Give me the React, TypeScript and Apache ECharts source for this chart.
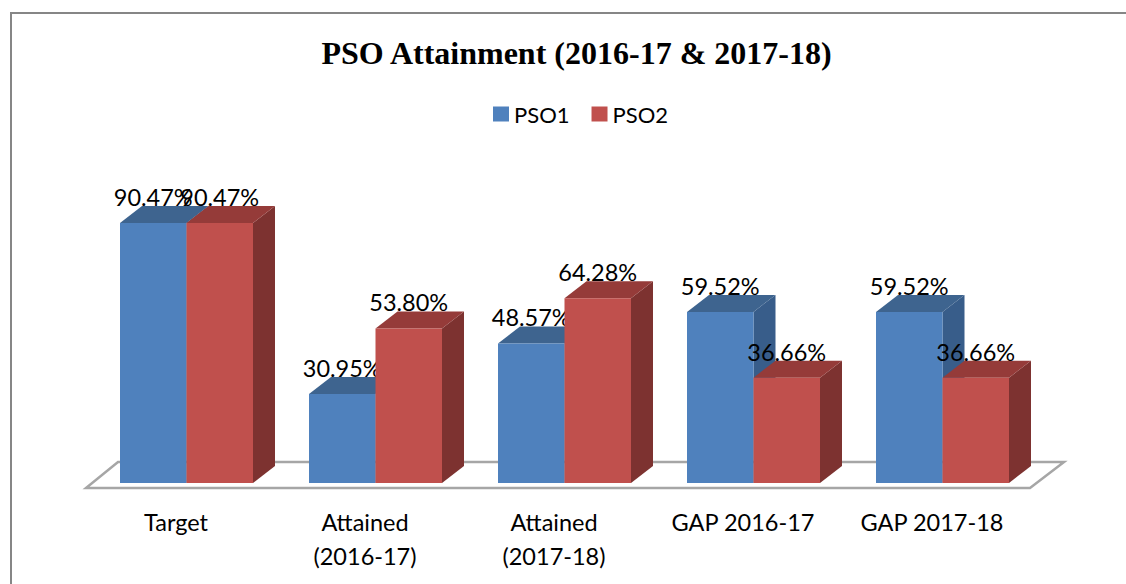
import React, { useEffect, useRef } from "react";
import * as echarts from "echarts";

const categories = ["Target", "Attained\n(2016-17)", "Attained\n(2017-18)", "GAP 2016-17", "GAP 2017-18"];
const pso1 = [90.47, 30.95, 48.57, 59.52, 59.52];
const pso2 = [90.47, 53.8, 64.28, 36.66, 36.66];

const BAR_W = 66.5;
const DX = 22;
const DY = 17;
const SHIFT = 10.5;
const LABEL_FONT = "Lato, Carlito, sans-serif";

function bar3d(front: string, top: string, side: string, seriesOffset: number) {
  return (_params: any, api: any) => {
    const cat = api.value(0);
    const val = api.value(1);
    const [cx, yTop] = api.coord([cat, val]);
    const [, yBase] = api.coord([cat, 0]);
    const x0 = cx + SHIFT + seriesOffset * BAR_W;
    const x1 = x0 + BAR_W;
    return {
      type: "group",
      children: [
        {
          type: "polygon",
          shape: { points: [[x1, yTop], [x1 + DX, yTop - DY], [x1 + DX, yBase - DY], [x1, yBase]] },
          style: { fill: side },
        },
        {
          type: "polygon",
          shape: { points: [[x0, yTop], [x0 + DX, yTop - DY], [x1 + DX, yTop - DY], [x1, yTop]] },
          style: { fill: top },
        },
        {
          type: "rect",
          shape: { x: x0, y: yTop, width: BAR_W, height: yBase - yTop },
          style: { fill: front },
        },
        {
          type: "text",
          z2: 100,
          x: (x0 + x1) / 2,
          y: yTop - 26,
          style: {
            text: val.toFixed(2) + "%",
            fill: "#000",
            font: `23.5px ${LABEL_FONT}`,
            align: "center",
            verticalAlign: "middle",
          },
        },
      ],
    };
  };
}

function floor(params: any, _api: any) {
  const c = params.coordSys;
  const base = c.y + c.height;
  const left = c.x + 4.5;
  const right = c.x + c.width + 3.5;
  return {
    type: "polygon",
    shape: {
      points: [
        [left, base + 5],
        [right, base + 5],
        [right + 34, base - 21],
        [left + 32, base - 21],
      ],
    },
    style: { fill: "#fff", stroke: "#A6A6A6", lineWidth: 2.5 },
  };
}

export default function App() {
  const ref = useRef<HTMLDivElement>(null);
  useEffect(() => {
    const chart = echarts.init(ref.current!, null, { renderer: "svg" });
    chart.setOption({
      animation: false,
      backgroundColor: "#fff",
      title: {
        text: "PSO Attainment (2016-17 & 2017-18)",
        left: 571.5,
        top: 32,
        textAlign: "center",
        textStyle: {
          fontFamily: "Liberation Serif",
          fontWeight: "bold",
          fontSize: 32,
          color: "#000",
        },
      },
      legend: {
        data: ["PSO1", "PSO2"],
        top: 98,
        left: 488,
        icon: "rect",
        itemWidth: 16,
        itemHeight: 15,
        itemGap: 22,
        textStyle: { fontFamily: LABEL_FONT, fontSize: 22, color: "#000" },
      },
      grid: { left: 81.5, width: 945, top: 195.6, height: 287.4 },
      xAxis: {
        type: "category",
        data: categories,
        axisLine: { show: false },
        axisTick: { show: false },
        axisLabel: {
          interval: 0,
          margin: 22,
          fontFamily: LABEL_FONT,
          fontSize: 23.5,
          lineHeight: 34,
          color: "#000",
        },
      },
      yAxis: { type: "value", min: 0, max: 100, show: false },
      graphic: [
        {
          type: "polyline",
          shape: { points: [[11, 584], [11, 13], [1126, 13]] },
          style: { fill: "none", stroke: "#868686", lineWidth: 2 },
        },
      ],
      series: [
        {
          name: "floor",
          type: "custom",
          renderItem: floor,
          data: [[0, 0]],
          clip: false,
          z: 1,
        },
        {
          name: "PSO1",
          type: "custom",
          renderItem: bar3d("#4F81BD", "#3E648F", "#385D8A", -1),
          data: pso1.map((v, i) => [i, v]),
          encode: { x: 0, y: 1 },
          itemStyle: { color: "#4F81BD" },
          clip: false,
          z: 2,
        },
        {
          name: "PSO2",
          type: "custom",
          renderItem: bar3d("#C0504D", "#953B39", "#7D3230", 0),
          data: pso2.map((v, i) => [i, v]),
          encode: { x: 0, y: 1 },
          itemStyle: { color: "#C0504D" },
          clip: false,
          z: 3,
        },
      ],
    });
    return () => chart.dispose();
  }, []);
  return <div ref={ref} style={{ position: "absolute", left: 0, top: 0, width: 1126, height: 584 }} />;
}
